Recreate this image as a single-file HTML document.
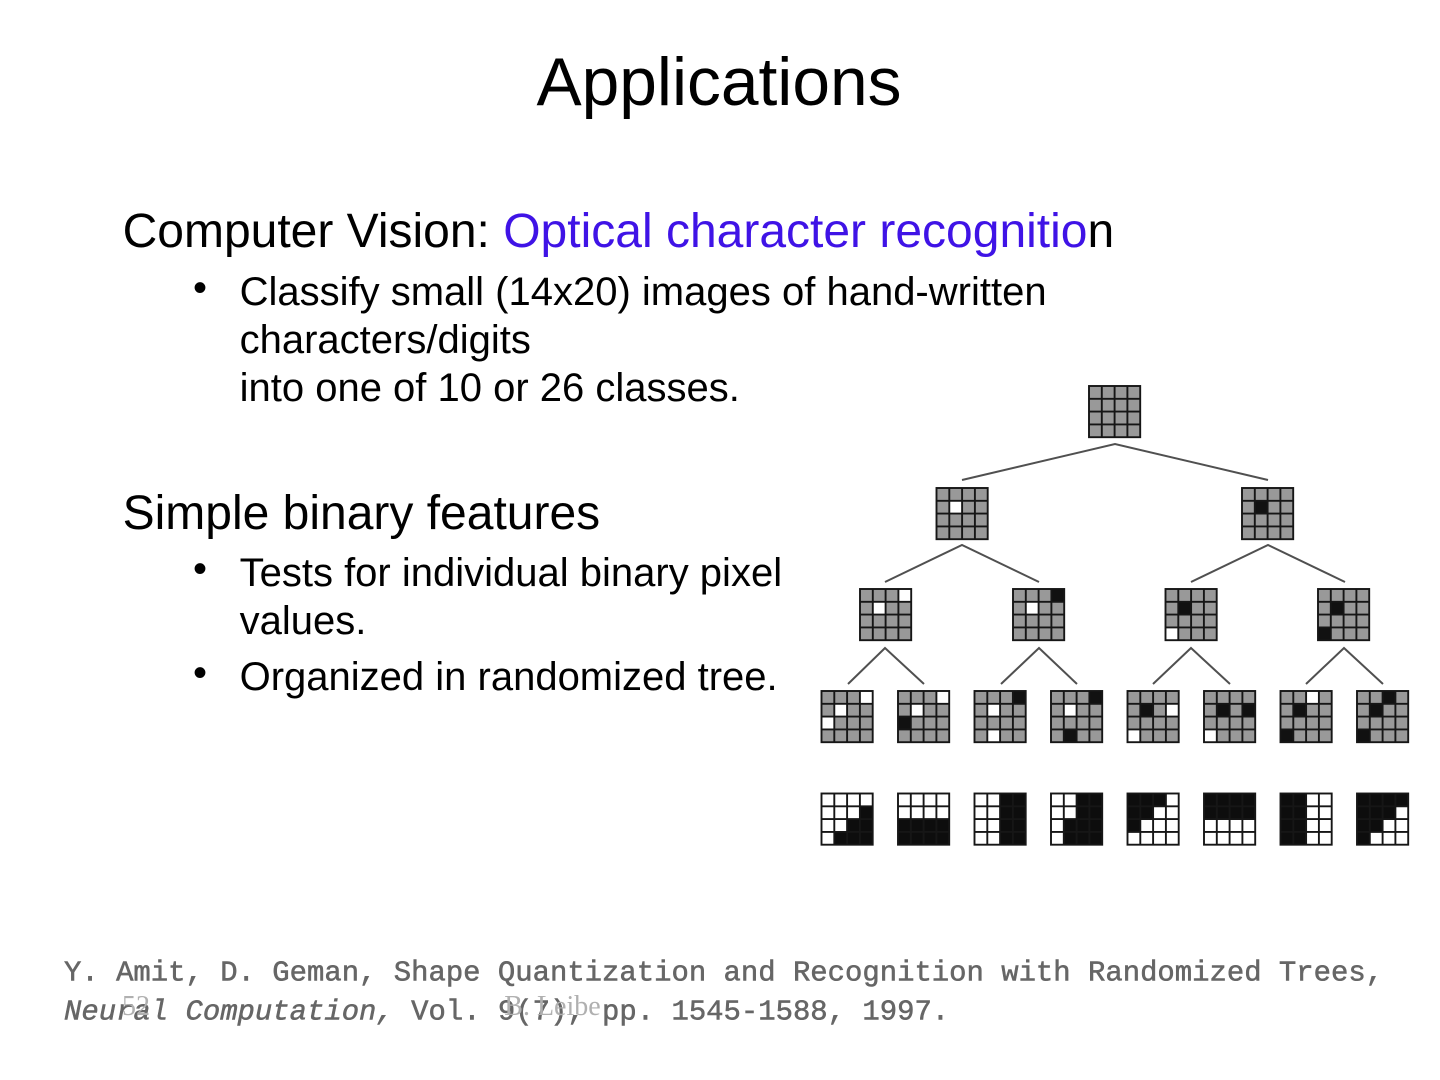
<!DOCTYPE html>
<html><head><meta charset="utf-8"><style>
html,body{margin:0;padding:0;background:#fff}
svg{display:block}
text{font-family:"Liberation Sans",sans-serif;fill:#000}
.h{font-size:48px}.s{font-size:40px}
.f{font-family:"Liberation Mono",monospace;font-size:28.93px;fill:#666;stroke:#666;stroke-width:.55px}
.p{font-family:"Liberation Serif",serif;font-size:28px;fill:#b0b0b0}
</style></head><body>
<svg width="1440" height="1080" viewBox="0 0 1440 1080" xmlns="http://www.w3.org/2000/svg">
<defs>
<g id="lines" fill="none" stroke="#161616" stroke-width="1.9">
<rect x="0" y="0" width="51.2" height="51.2"/>
<path d="M12.8 0V51.2M25.6 0V51.2M38.4 0V51.2M0 12.8H51.2M0 25.6H51.2M0 38.4H51.2"/>
</g>
<rect id="g" width="51.2" height="51.2" fill="#999"/>
<rect id="c" width="12.8" height="12.8"/>
</defs>
<text x="719" y="105" font-size="67.7" text-anchor="middle">Applications</text>
<text x="122.6" y="247" class="h">Computer Vision: <tspan fill="#3f13e6">Optical character recognitio</tspan>n</text>
<text x="193" y="301" class="s">•</text>
<text x="239.6" y="305" class="s">Classify small (14x20) images of hand-written</text>
<text x="239.6" y="353" class="s">characters/digits</text>
<text x="239.6" y="401" class="s">into one of 10 or 26 classes.</text>
<text x="122.6" y="529" class="h">Simple binary features</text>
<text x="193" y="582" class="s">•</text>
<text x="239.6" y="586" class="s">Tests for individual binary pixel</text>
<text x="239.6" y="634" class="s">values.</text>
<text x="193" y="686" class="s">•</text>
<text x="239.6" y="690" class="s">Organized in randomized tree.</text>

<g style="filter:blur(.35px)">
<g fill="none" stroke="#505050" stroke-width="2">
<path d="M962 480L1115 444L1268 480"/>
<path d="M885 582L962 545L1039 582M1191 582L1268 545L1345 582"/>
<path d="M848 684L885 648L924 684M1001 684L1039 648L1077 684M1153 684L1191 648L1230 684M1306 684L1344 648L1383 684"/>
</g>

<g transform="translate(1089,386)"><use href="#g"/><use href="#lines"/></g>

<g transform="translate(936.5,488)"><use href="#g"/><use href="#c" x="12.8" y="12.8" fill="#fff"/><use href="#lines"/></g>
<g transform="translate(1242,488)"><use href="#g"/><use href="#c" x="12.8" y="12.8" fill="#111"/><use href="#lines"/></g>

<g transform="translate(860,589)"><use href="#g"/><use href="#c" x="38.4" y="0" fill="#fff"/><use href="#c" x="12.8" y="12.8" fill="#fff"/><use href="#lines"/></g>
<g transform="translate(1013,589)"><use href="#g"/><use href="#c" x="38.4" y="0" fill="#111"/><use href="#c" x="12.8" y="12.8" fill="#fff"/><use href="#lines"/></g>
<g transform="translate(1165.5,589)"><use href="#g"/><use href="#c" x="12.8" y="12.8" fill="#111"/><use href="#c" x="0" y="38.4" fill="#fff"/><use href="#lines"/></g>
<g transform="translate(1318,589)"><use href="#g"/><use href="#c" x="12.8" y="12.8" fill="#111"/><use href="#c" x="0" y="38.4" fill="#111"/><use href="#lines"/></g>

<g transform="translate(821.5,691)"><use href="#g"/><use href="#c" x="38.4" y="0" fill="#fff"/><use href="#c" x="12.8" y="12.8" fill="#fff"/><use href="#c" x="0" y="25.6" fill="#fff"/><use href="#lines"/></g>
<g transform="translate(898,691)"><use href="#g"/><use href="#c" x="38.4" y="0" fill="#fff"/><use href="#c" x="12.8" y="12.8" fill="#fff"/><use href="#c" x="0" y="25.6" fill="#111"/><use href="#lines"/></g>
<g transform="translate(974.5,691)"><use href="#g"/><use href="#c" x="38.4" y="0" fill="#111"/><use href="#c" x="12.8" y="12.8" fill="#fff"/><use href="#c" x="12.8" y="38.4" fill="#fff"/><use href="#lines"/></g>
<g transform="translate(1051,691)"><use href="#g"/><use href="#c" x="38.4" y="0" fill="#111"/><use href="#c" x="12.8" y="12.8" fill="#fff"/><use href="#c" x="12.8" y="38.4" fill="#111"/><use href="#lines"/></g>
<g transform="translate(1127.5,691)"><use href="#g"/><use href="#c" x="12.8" y="12.8" fill="#111"/><use href="#c" x="38.4" y="12.8" fill="#fff"/><use href="#c" x="0" y="38.4" fill="#fff"/><use href="#lines"/></g>
<g transform="translate(1204,691)"><use href="#g"/><use href="#c" x="12.8" y="12.8" fill="#111"/><use href="#c" x="38.4" y="12.8" fill="#111"/><use href="#c" x="0" y="38.4" fill="#fff"/><use href="#lines"/></g>
<g transform="translate(1280.5,691)"><use href="#g"/><use href="#c" x="25.6" y="0" fill="#fff"/><use href="#c" x="12.8" y="12.8" fill="#111"/><use href="#c" x="0" y="38.4" fill="#111"/><use href="#lines"/></g>
<g transform="translate(1357,691)"><use href="#g"/><use href="#c" x="25.6" y="0" fill="#111"/><use href="#c" x="12.8" y="12.8" fill="#111"/><use href="#c" x="0" y="38.4" fill="#111"/><use href="#lines"/></g>

<g fill="#0d0d0d">
<path transform="translate(821.5,793.5)" d="M38.4 12.8H51.2V51.2H12.8V38.4H25.6V25.6H38.4Z"/>
<rect x="898" y="819.1" width="51.2" height="25.6"/>
<rect x="1000.1" y="793.5" width="25.6" height="51.2"/>
<path transform="translate(1051,793.5)" d="M25.6 0H51.2V51.2H12.8V25.6H25.6Z"/>
<path transform="translate(1127.5,793.5)" d="M0 0H38.4V12.8H25.6V25.6H12.8V38.4H0Z"/>
<rect x="1204" y="793.5" width="51.2" height="25.6"/>
<rect x="1280.5" y="793.5" width="25.6" height="51.2"/>
<path transform="translate(1357,793.5)" d="M0 0H51.2V12.8H38.4V25.6H25.6V38.4H12.8V51.2H0Z"/>
</g>
<use href="#lines" x="821.5" y="793.5"/><use href="#lines" x="898" y="793.5"/><use href="#lines" x="974.5" y="793.5"/><use href="#lines" x="1051" y="793.5"/><use href="#lines" x="1127.5" y="793.5"/><use href="#lines" x="1204" y="793.5"/><use href="#lines" x="1280.5" y="793.5"/><use href="#lines" x="1357" y="793.5"/>
</g>

<text x="64" y="980.5" class="f">Y. Amit, D. Geman, Shape Quantization and Recognition with Randomized Trees,</text>
<text x="64" y="1019.5" class="f"><tspan font-style="italic">Neural Computation,</tspan> Vol. 9(7), pp. 1545-1588, 1997.</text>
<text x="122" y="1015" class="p">52</text>
<text x="552.5" y="1015" text-anchor="middle" class="p">B. Leibe</text>
</svg>
</body></html>
